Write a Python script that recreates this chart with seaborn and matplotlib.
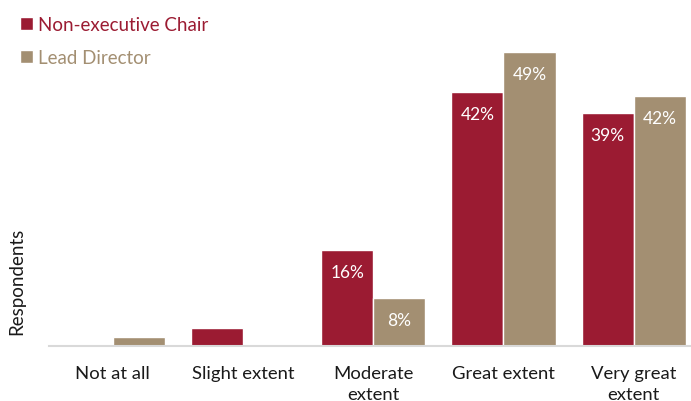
import pandas as pd
import matplotlib.pyplot as plt
import seaborn as sns

# Dados do gráfico
categorias = ["Not at all", "Slight extent", "Moderate\nextent", "Great extent", "Very great\nextent"]
chair = [0, 3, 16, 42.3, 38.8]
lead = [1.5, 0, 8, 49, 41.6]
series = ["Non-executive Chair", "Lead Director"]
rotulos_chair = ["", "", "16%", "42%", "39%"]
rotulos_lead = ["", "", "8%", "49%", "42%"]

cores = {"Non-executive Chair": "#9B1B32", "Lead Director": "#A38F72"}

df = pd.DataFrame({
    "categoria": categorias * 2,
    "valor": chair + lead,
    "serie": [series[0]] * len(categorias) + [series[1]] * len(categorias),
})

sns.set_style("white")
plt.rcParams["font.family"] = ["Lato", "DejaVu Sans"]

W, H = 691, 402
fig = plt.figure(figsize=(W / 100, H / 100), dpi=100)
base = 346.7
ax = fig.add_axes([49 / W, (H - base) / H, (691 - 49) / W, base / H])

sns.barplot(data=df, x="categoria", y="valor", hue="serie", palette=cores,
            width=0.8, saturation=1, ax=ax, legend=True)

ax.set_xlim(-0.49, 4.44)
ax.set_ylim(0, base / 6.0)

# rótulos dentro das barras
for cont, rot in zip(ax.containers, [rotulos_chair, rotulos_lead]):
    for barra, txt in zip(cont, rot):
        if txt:
            ax.annotate(txt, (barra.get_x() + barra.get_width() / 2, barra.get_height()),
                        xytext=(0, -16), textcoords="offset points",
                        ha="center", va="center", color="white", fontsize=12.5)

sns.despine(ax=ax, left=True)
ax.spines["bottom"].set_color("#D9D9D9")
ax.spines["bottom"].set_linewidth(1.5)
ax.set_yticks([])
ax.set_xlabel("")
ax.set_ylabel("")
ax.tick_params(axis="x", length=0, pad=14, labelsize=13.3, colors="#1a1a1a")
for lab in ax.get_xticklabels():
    lab.set_linespacing(1.4)

fig.text(17 / W, 1 - 281 / H, "Respondents", rotation=90, ha="center", va="center",
         fontsize=13.5, color="#1a1a1a")

# legenda
leg = ax.legend(loc="upper left", bbox_to_anchor=(3 / W, 1 - 0 / H), bbox_transform=fig.transFigure,
                frameon=False, fontsize=13.5, handlelength=0.7, handleheight=0.7,
                handletextpad=0.25, labelspacing=0.85)
for txt, s in zip(leg.get_texts(), series):
    txt.set_color(cores[s])

fig.savefig("out.png", dpi=100)
